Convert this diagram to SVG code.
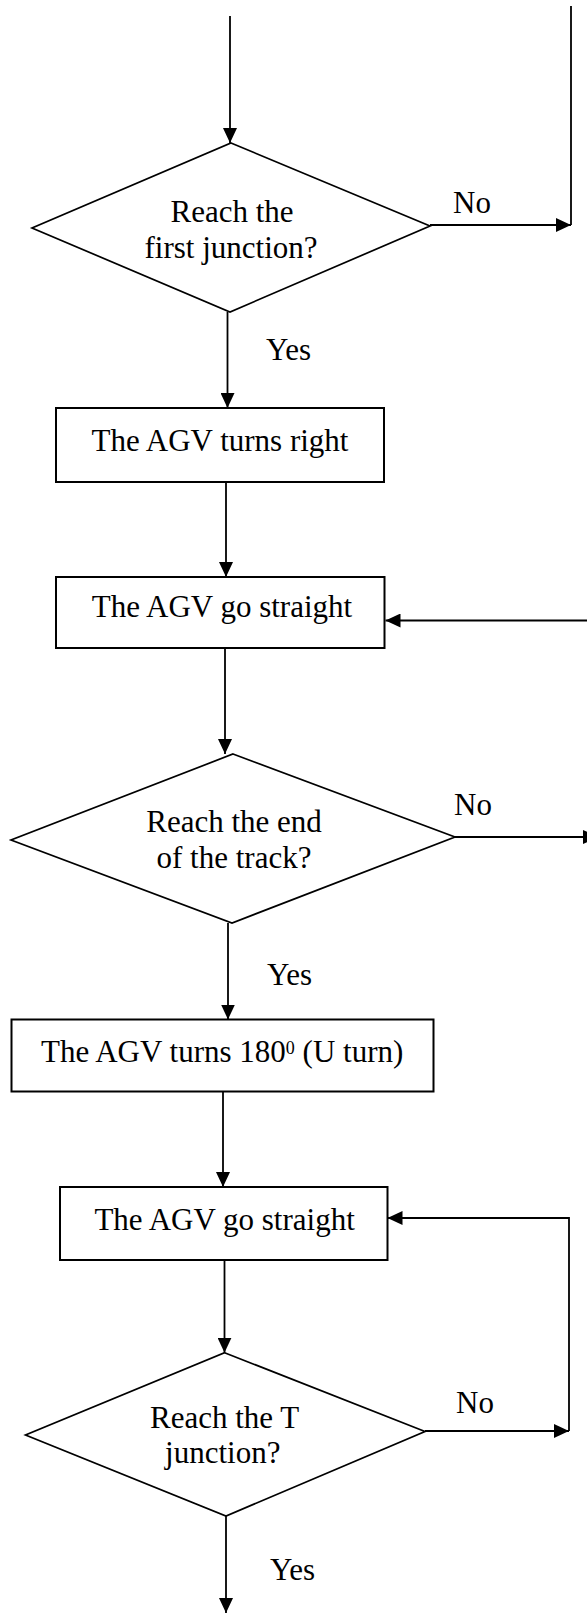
<svg xmlns="http://www.w3.org/2000/svg" width="587" height="1613" viewBox="0 0 587 1613">
  <style>
    .shape { fill: #ffffff; stroke: #000000; stroke-width: 1.7; }
    .box { fill: #ffffff; stroke: #000000; stroke-width: 2; }
    .wire { fill: none; stroke: #000000; stroke-width: 1.8; }
    .lbl { font-family: "Liberation Serif", "Times New Roman", serif; font-size: 31px; fill: #000000; }
    .mid { text-anchor: middle; }
  </style>
  <defs>
    <marker id="head" markerUnits="userSpaceOnUse" markerWidth="15" markerHeight="14" refX="15" refY="7" orient="auto">
      <path d="M0,0 L15,7 L0,14 z" fill="#000000"/>
    </marker>
  </defs>
  <rect width="587" height="1613" fill="#ffffff"/>

  <!-- connectors -->
  <g id="connectors">
    <path class="wire" d="M230,16 V143" marker-end="url(#head)"/>
    <path class="wire" d="M571,6 V225"/>
    <path class="wire" d="M430,225 H571" marker-end="url(#head)"/>
    <path class="wire" d="M227.5,312 V408" marker-end="url(#head)"/>
    <path class="wire" d="M226,482 V577" marker-end="url(#head)"/>
    <path class="wire" d="M592,620.5 H385.5" marker-end="url(#head)"/>
    <path class="wire" d="M225,648 V754" marker-end="url(#head)"/>
    <path class="wire" d="M455,837 H598" marker-end="url(#head)"/>
    <path class="wire" d="M228,923 V1019.5" marker-end="url(#head)"/>
    <path class="wire" d="M223,1092 V1187" marker-end="url(#head)"/>
    <path class="wire" d="M569,1431 V1218 H387.5" marker-end="url(#head)"/>
    <path class="wire" d="M425,1431 H569" marker-end="url(#head)"/>
    <path class="wire" d="M224.5,1260 V1352.7" marker-end="url(#head)"/>
    <path class="wire" d="M226,1516 V1613" marker-end="url(#head)"/>
    <text class="lbl" x="453" y="213">No</text>
    <text class="lbl" x="266" y="360">Yes</text>
    <text class="lbl" x="454" y="815">No</text>
    <text class="lbl" x="267" y="985">Yes</text>
    <text class="lbl" x="456" y="1412.7">No</text>
    <text class="lbl" x="270" y="1580">Yes</text>
  </g>

  <!-- decision: first junction -->
  <g id="decision-first-junction">
    <polygon class="shape" points="231,143 430,226 230,312 32,228"/>
    <text class="lbl mid" x="232" y="221.7">Reach the</text>
    <text class="lbl mid" x="231" y="258.3">first junction?</text>
  </g>

  <g id="turn-right">
    <rect class="box" x="56" y="408" width="328" height="74"/>
    <text class="lbl mid" x="220" y="450.7">The AGV turns right</text>
  </g>

  <g id="go-straight-1">
    <rect class="box" x="56" y="577" width="328.5" height="71"/>
    <text class="lbl mid" x="222" y="617.3">The AGV go straight</text>
  </g>

  <!-- decision: end of track -->
  <g id="decision-end-of-track">
    <polygon class="shape" points="233,754 455,837 232,923 11,840"/>
    <text class="lbl mid" x="234" y="831.7">Reach the end</text>
    <text class="lbl mid" x="234" y="868.3">of the track?</text>
  </g>

  <g id="u-turn">
    <rect class="box" x="11.5" y="1019.5" width="422" height="72"/>
    <text class="lbl" x="41" y="1061.7">The AGV turns 180<tspan font-size="18" dy="-8">0</tspan><tspan dy="8"> (U turn)</tspan></text>
  </g>

  <g id="go-straight-2">
    <rect class="box" x="60" y="1187" width="327.5" height="73"/>
    <text class="lbl mid" x="224.6" y="1230">The AGV go straight</text>
  </g>

  <!-- decision: T junction -->
  <g id="decision-t-junction">
    <polygon class="shape" points="224.6,1352.7 425,1431.5 226,1516 25.5,1435"/>
    <text class="lbl mid" x="224.6" y="1428.3">Reach the T</text>
    <text class="lbl mid" x="222.8" y="1463.3">junction?</text>
  </g>
</svg>
